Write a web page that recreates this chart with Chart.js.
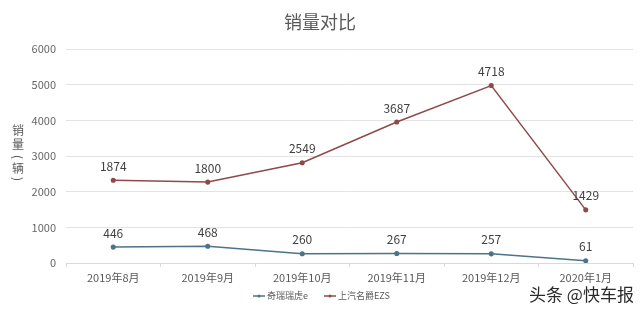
<!DOCTYPE html>
<html><head><meta charset="utf-8">
<script src="https://cdn.jsdelivr.net/npm/chart.js@4/dist/chart.umd.min.js"></script>
<style>html,body{margin:0;padding:0;background:#fff;}canvas{display:block;}</style>
</head><body>
<canvas id="c" width="640" height="315"></canvas>
<script>
const categories = ['2019年8月','2019年9月','2019年10月','2019年11月','2019年12月','2020年1月'];
const cheryValues = [446, 468, 260, 267, 257, 61];
const mgValues = [1874, 1800, 2549, 3687, 4718, 1429];
const seriesNames = ['奇瑞瑞虎e', '上汽名爵EZS'];
const yTicks = [0, 1000, 2000, 3000, 4000, 5000, 6000];
const titleText = '销量对比';
const yTitle = '销量（辆）';
const watermark = '头条 @快车报';

const FONT = '"Noto Sans CJK SC", "Noto Sans", sans-serif';
const blue = '#4d7389';
const red = '#8e4a4a';

const extras = {
  id: 'extras',
  afterDatasetsDraw(chart) {
    const ctx = chart.ctx;
    ctx.save();
    ctx.setTransform(1, 0, 0, 1, 0, 0);
    // data labels (raw values)
    ctx.fillStyle = '#404040';
    ctx.font = '12px ' + FONT;
    ctx.textAlign = 'center';
    ctx.textBaseline = 'bottom';
    chart.data.datasets.forEach((ds, di) => {
      const meta = chart.getDatasetMeta(di);
      meta.data.forEach((pt, i) => {
        ctx.fillText(String(ds.data[i]), pt.x, pt.y - 8);
      });
    });
    // title
    ctx.fillStyle = '#595959';
    ctx.font = '18px ' + FONT;
    ctx.textBaseline = 'middle';
    ctx.fillText(titleText, 320, 22);
    // y-axis title, stacked vertically, upright characters
    ctx.font = '12px ' + FONT;
    ctx.textAlign = 'center';
    ctx.textBaseline = 'middle';
    const chars = Array.from(yTitle);
    const ys = [130, 144, 157, 168, 179];
    chars.forEach((ch, k) => {
      if (ch === '（' || ch === '）') {
        ctx.save();
        ctx.translate(18, ys[k]);
        ctx.rotate(Math.PI / 2);
        ctx.fillText(ch === '（' ? '(' : ')', 0, 0);
        ctx.restore();
      } else {
        ctx.fillText(ch, 18, ys[k]);
      }
    });
    // legend
    const colors = [blue, red];
    const lx = [253, 324];
    ctx.font = '9px ' + FONT;
    ctx.textAlign = 'left';
    seriesNames.forEach((n, i) => {
      ctx.strokeStyle = colors[i];
      ctx.fillStyle = colors[i];
      ctx.lineWidth = 1.5;
      ctx.beginPath(); ctx.moveTo(lx[i], 296); ctx.lineTo(lx[i] + 12, 296); ctx.stroke();
      ctx.beginPath(); ctx.arc(lx[i] + 6, 296, 1.5, 0, Math.PI * 2); ctx.fill();
      ctx.fillStyle = '#595959';
      ctx.fillText(n, lx[i] + 14, 296);
    });
    // watermark
    ctx.fillStyle = '#2a2a2a';
    ctx.font = '17px ' + FONT;
    ctx.textAlign = 'left';
    ctx.fillText(watermark, 529, 295);
    ctx.restore();
  }
};

new Chart(document.getElementById('c'), {
  type: 'line',
  data: {
    labels: categories,
    datasets: [
      { label: seriesNames[0], data: cheryValues, borderColor: blue, backgroundColor: blue,
        borderWidth: 1.5, pointRadius: 1.8, pointHoverRadius: 1.8, tension: 0, fill: false },
      { label: seriesNames[1], data: mgValues, borderColor: red, backgroundColor: red,
        borderWidth: 1.5, pointRadius: 1.8, pointHoverRadius: 1.8, tension: 0, fill: false }
    ]
  },
  options: {
    responsive: false,
    animation: false,
    events: [],
    layout: { padding: { top: 49, right: 7, bottom: 22, left: 0 } },
    plugins: { legend: { display: false }, title: { display: false }, tooltip: { enabled: false } },
    scales: {
      x: {
        offset: true,
        grid: { display: true, drawOnChartArea: false, drawTicks: true, tickLength: 4, color: '#d9d9d9', offset: true },
        border: { display: true, color: '#d9d9d9' },
        ticks: { color: '#595959', font: { size: 11, family: FONT }, maxRotation: 0, padding: 4 },
        afterFit(s) { s.height = 30; }
      },
      y: {
        stacked: true,
        min: 0, max: 6000,
        afterBuildTicks(s) { s.ticks = yTicks.map(v => ({ value: v })); },
        grid: { color: '#e3e3e3', drawTicks: false },
        border: { display: false },
        ticks: { color: '#666666', font: { size: 11, family: FONT }, padding: 10, callback: v => String(v) },
        afterFit(s) { s.width = 66; }
      }
    }
  },
  plugins: [extras]
});
</script>
</body></html>
